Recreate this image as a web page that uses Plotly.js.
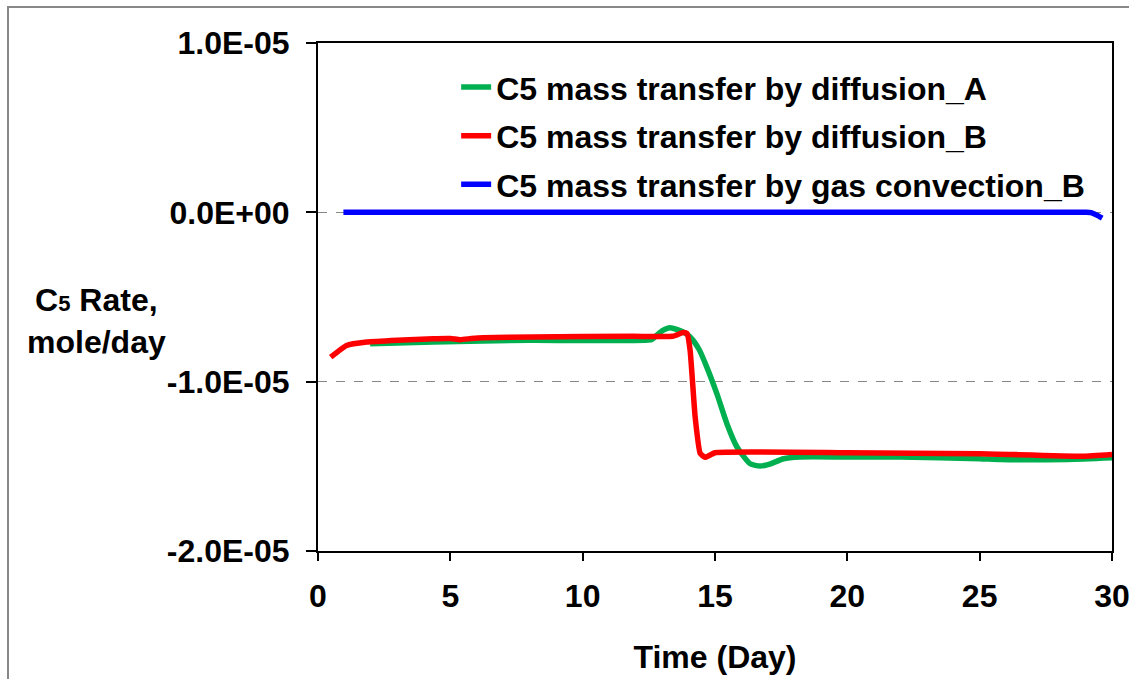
<!DOCTYPE html>
<html>
<head>
<meta charset="utf-8">
<script src="https://cdn.plot.ly/plotly-3.0.1.min.js"></script>
<style>
  html, body { margin: 0; padding: 0; background: #fff; }
  #chart { position: absolute; left: 0; top: 0; width: 1138px; height: 679px; }
  #frame { position: absolute; left: 7px; top: 6px; width: 1120px; height: 700px;
           border-left: 2px solid #888; border-top: 2px solid #888; pointer-events: none; }
</style>
</head>
<body>
<div id="chart"></div>
<div id="frame"></div>
<script>
// Series: C5 mass transfer by diffusion_A (green)
const timeA = [1.97, 4.35, 8.0, 12.6, 12.7, 13.0, 13.3, 13.8, 14.06, 14.4, 14.69, 15.07, 15.45, 15.83, 16.33, 16.71, 17.1, 17.59, 18.2, 20.0, 22.0, 25.0, 25.8, 28.3, 30.0];
const rateA = [-7.76e-6, -7.66e-6, -7.55e-6, -7.52e-6, -7.4e-6, -7.0e-6, -6.81e-6, -7.07e-6, -7.36e-6, -8.1e-6, -9.14e-6, -10.71e-6, -12.48e-6, -13.86e-6, -14.85e-6, -14.98e-6, -14.85e-6, -14.55e-6, -14.45e-6, -14.45e-6, -14.45e-6, -14.55e-6, -14.6e-6, -14.59e-6, -14.49e-6];

// Series: C5 mass transfer by diffusion_B (red)
const timeB = [0.48, 1.08, 1.84, 3.0, 4.35, 5.0, 5.37, 5.8, 6.24, 8.13, 11.9, 13.4, 13.8, 13.94, 14.06, 14.25, 14.44, 14.63, 15.0, 20.0, 25.0, 28.9, 30.0];
const rateB = [-8.55e-6, -7.86e-6, -7.66e-6, -7.55e-6, -7.46e-6, -7.45e-6, -7.52e-6, -7.45e-6, -7.40e-6, -7.36e-6, -7.32e-6, -7.32e-6, -7.1e-6, -7.15e-6, -8.15e-6, -12.09e-6, -14.24e-6, -14.47e-6, -14.2e-6, -14.2e-6, -14.25e-6, -14.4e-6, -14.3e-6];

// Series: C5 mass transfer by gas convection_B (blue)
const timeC = [0.96, 5.0, 10.0, 15.0, 20.0, 25.0, 29.0, 29.2, 29.44, 29.63];
const rateC = [0, 0, 0, 0, 0, 0, 0, -0.02e-6, -0.18e-6, -0.34e-6];

const seriesNames = [
  'C5 mass transfer by diffusion_A',
  'C5 mass transfer by diffusion_B',
  'C5 mass transfer by gas convection_B'
];

const xTickVals = [0, 5, 10, 15, 20, 25, 30];
const yTickVals = [1e-5, 0, -1e-5, -2e-5];
const yTickText = ['1.0E-05', '0.0E+00', '-1.0E-05', '-2.0E-05'];

const FONT = 'Liberation Sans, Arial, sans-serif';
const F = { family: FONT, size: 32, color: '#000', weight: 'bold' };

const traces = [
  { x: timeA, y: rateA, name: seriesNames[0], legendgroup: 'a', mode: 'lines',
    line: { color: '#00B050', width: 5.5, shape: 'spline', smoothing: 0.6 } },
  { x: timeB, y: rateB, name: seriesNames[1], legendgroup: 'b', mode: 'lines',
    line: { color: '#FF0000', width: 5.5, shape: 'spline', smoothing: 0.4 } },
  { x: timeC, y: rateC, name: seriesNames[2], legendgroup: 'c', mode: 'lines',
    line: { color: '#0000FF', width: 5.5, shape: 'spline', smoothing: 0.5 } }
];

const layout = {
  width: 1138, height: 679,
  margin: { l: 318, r: 26, t: 43, b: 128 },
  paper_bgcolor: '#fff', plot_bgcolor: '#fff',
  font: F,
  showlegend: true,
  legend: {
    x: 0.174, y: 0.967, xanchor: 'left', yanchor: 'top',
    bgcolor: 'rgba(0,0,0,0)', font: F, tracegroupgap: 4, traceorder: 'grouped'
  },
  xaxis: {
    range: [0, 30], tickvals: xTickVals, ticktext: xTickVals.map(String),
    showgrid: false, zeroline: false,
    showline: true, linecolor: '#000', linewidth: 2, mirror: true,
    ticks: 'outside', ticklen: 8, tickwidth: 2, tickcolor: '#000',
    tickfont: F, ticklabelstandoff: 8,
    title: { text: 'Time (Day)', font: F, standoff: 32 }
  },
  yaxis: {
    range: [-2e-5, 1e-5], tickvals: yTickVals, ticktext: yTickText,
    showgrid: true, gridcolor: '#888', griddash: 'dash', gridwidth: 1,
    zeroline: false,
    showline: true, linecolor: '#000', linewidth: 2, mirror: true,
    ticks: 'outside', ticklen: 10, tickwidth: 2, tickcolor: '#000',
    tickfont: F, ticklabelstandoff: 10
  },
  annotations: [{
    xref: 'paper', yref: 'paper', x: -0.2785, y: 0.452,
    xanchor: 'center', yanchor: 'middle', showarrow: false, align: 'center',
    text: 'C<span style="font-size:22px">5</span> Rate,<br>mole/day', font: F
  }]
};

Plotly.newPlot('chart', traces, layout, { displayModeBar: false, staticPlot: true });
</script>
</body>
</html>
